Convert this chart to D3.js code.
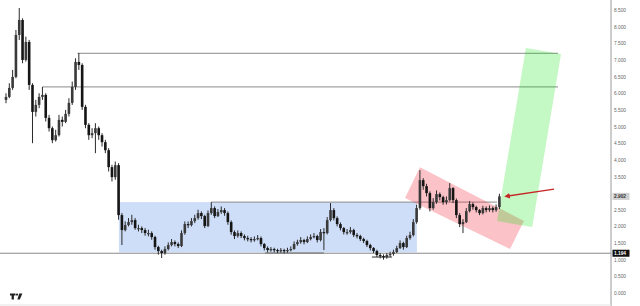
<!DOCTYPE html>
<html>
<head>
<meta charset="utf-8">
<script src="https://cdn.jsdelivr.net/npm/d3@7"></script>
<style>
  html, body { margin: 0; padding: 0; background: #fff; }
  #chart { width: 640px; height: 306px; overflow: hidden; }
  .tick text { font-family: "Liberation Sans", Arial, sans-serif; }
</style>
</head>
<body>
<div id="chart"></div>
<script>
// candle data (one per bar); each bar opens at the previous close
var firstOpen = 5.80;
var closes = [5.89, 6.16, 6.49, 7.75, 8.20, 7.00, 7.54, 6.25, 5.44, 5.65,
  5.89, 5.95, 5.26, 4.95, 4.59, 4.74, 5.20, 5.14, 5.38, 5.71,
  6.19, 6.94, 6.85, 5.59, 5.05, 4.74, 4.80, 4.95, 4.74, 4.53,
  4.29, 3.78, 3.48, 3.84, 2.34, 1.89, 2.04, 2.13, 2.19, 1.95,
  1.95, 1.89, 1.80, 1.80, 1.68, 1.38, 1.26, 1.20, 1.32, 1.44,
  1.53, 1.47, 1.41, 1.80, 2.07, 2.04, 2.16, 2.25, 2.40, 2.31,
  2.01, 2.40, 2.55, 2.31, 2.43, 2.49, 2.40, 2.13, 1.83, 1.71,
  1.80, 1.71, 1.65, 1.62, 1.59, 1.62, 1.65, 1.47, 1.35, 1.29,
  1.32, 1.29, 1.26, 1.29, 1.26, 1.29, 1.32, 1.47, 1.53, 1.59,
  1.53, 1.62, 1.68, 1.71, 1.59, 1.83, 1.80, 2.19, 2.49, 2.25,
  2.07, 1.95, 1.83, 1.83, 1.89, 1.74, 1.71, 1.62, 1.56, 1.44,
  1.35, 1.26, 1.14, 1.11, 1.08, 1.14, 1.17, 1.23, 1.35, 1.50,
  1.38, 1.65, 1.74, 2.13, 2.55, 3.39, 3.21, 3.00, 2.55, 2.73,
  2.97, 2.88, 2.73, 2.79, 3.15, 2.79, 2.34, 2.07, 2.13, 2.46,
  2.67, 2.58, 2.49, 2.40, 2.55, 2.49, 2.55, 2.49, 2.58, 2.902];
var highs = [6.00, 6.30, 6.70, 7.90, 8.56, 8.25, 7.70, 7.60, 6.30, 5.80,
  6.00, 6.19, 6.00, 5.35, 5.00, 4.90, 5.35, 5.30, 5.50, 5.85,
  6.35, 7.05, 7.21, 6.90, 5.65, 5.10, 4.95, 5.10, 5.00, 4.80,
  4.60, 4.35, 3.85, 3.95, 3.90, 2.40, 2.15, 2.25, 2.35, 2.25,
  2.05, 2.00, 1.95, 1.90, 1.85, 1.72, 1.42, 1.30, 1.40, 1.52,
  1.62, 1.58, 1.52, 1.88, 2.15, 2.15, 2.25, 2.35, 2.50, 2.45,
  2.35, 2.48, 2.73, 2.60, 2.52, 2.60, 2.55, 2.45, 2.18, 1.88,
  1.88, 1.85, 1.76, 1.72, 1.68, 1.70, 1.74, 1.70, 1.50, 1.40,
  1.38, 1.36, 1.33, 1.35, 1.33, 1.36, 1.40, 1.55, 1.60, 1.68,
  1.63, 1.70, 1.76, 1.80, 1.75, 1.92, 1.95, 2.28, 2.70, 2.55,
  2.30, 2.12, 1.98, 1.92, 1.98, 1.93, 1.80, 1.75, 1.66, 1.60,
  1.48, 1.38, 1.30, 1.20, 1.16, 1.20, 1.24, 1.30, 1.42, 1.58,
  1.54, 1.72, 1.84, 2.22, 2.65, 3.69, 3.45, 3.28, 3.05, 2.85,
  3.08, 3.02, 2.92, 2.90, 3.30, 3.18, 2.84, 2.40, 2.22, 2.55,
  2.76, 2.72, 2.62, 2.52, 2.62, 2.60, 2.63, 2.60, 2.66, 2.98];
var lows = [5.70, 5.85, 6.10, 6.45, 7.60, 6.90, 6.95, 6.10, 4.50, 5.30,
  5.55, 5.80, 5.15, 4.85, 4.50, 4.55, 4.70, 5.00, 5.10, 5.30,
  5.65, 6.10, 6.70, 5.50, 4.95, 4.60, 4.65, 4.20, 4.60, 4.40,
  4.20, 3.65, 3.35, 3.40, 2.20, 1.44, 1.85, 2.00, 2.05, 1.90,
  1.85, 1.80, 1.72, 1.70, 1.60, 1.30, 1.15, 1.05, 1.15, 1.28,
  1.40, 1.40, 1.35, 1.38, 1.75, 1.95, 2.00, 2.10, 2.20, 2.22,
  1.95, 1.98, 2.35, 2.25, 2.28, 2.38, 2.32, 2.05, 1.75, 1.62,
  1.66, 1.65, 1.58, 1.55, 1.52, 1.54, 1.58, 1.40, 1.28, 1.22,
  1.24, 1.22, 1.20, 1.21, 1.19, 1.21, 1.25, 1.30, 1.42, 1.48,
  1.46, 1.50, 1.58, 1.64, 1.52, 1.55, 1.29, 1.76, 2.15, 2.18,
  2.00, 1.88, 1.76, 1.75, 1.78, 1.68, 1.64, 1.56, 1.50, 1.38,
  1.28, 1.20, 1.08, 1.04, 1.00, 1.03, 1.08, 1.12, 1.20, 1.32,
  1.30, 1.35, 1.60, 1.70, 2.08, 2.50, 3.10, 2.90, 2.45, 2.50,
  2.68, 2.78, 2.65, 2.66, 2.75, 2.70, 2.25, 1.98, 1.80, 2.10,
  2.42, 2.50, 2.42, 2.34, 2.36, 2.42, 2.44, 2.42, 2.44, 2.52];

// price axis
var tickValues = [0, 0.5, 1, 1.5, 2, 2.5, 3, 3.5, 4, 4.5, 5, 5.5, 6, 6.5, 7, 7.5, 8, 8.5];
var lastPrice = 2.902;
var supportPrice = 1.194;

// drawings, in [bar index, price]
var levelLines = [
  { from: 11, to: 166.7, price: 6.19 },
  { from: 21.6, to: 166.7, price: 7.20 },
  { from: 62, to: 148.3, price: 2.73 }
];
var rangeBox = { from: 34.1, to: 124.1, top: 2.73, bottom: 1.22 };
var lowMarks = [
  { from: 78.2, to: 96, price: 1.20 },
  { from: 110.5, to: 116.6, price: 1.08 }
];
var channel = [[125.0, 3.78], [156.4, 2.16], [152.2, 1.32], [120.5, 2.85]];
var target = [[157.0, 7.36], [167.6, 7.18], [158.9, 1.98], [148.3, 2.16]];
var arrow = [[165.5, 3.12], [151.3, 2.91]];

function init() {
    var w = 640;
    var h = 306;
    var axisX = 611;

    var x = d3.scaleLinear().domain([0, 183]).range([6, 612]);
    var y = d3.scaleLinear().domain([0, 8.5]).range([293, 10]);

    var svg = d3.select("#chart")
        .append("svg")
        .attr("width", w)
        .attr("height", h);

    var bars = closes.map(function(c, i) {
        return { i: i, o: i === 0 ? firstOpen : closes[i - 1], c: c, h: highs[i], l: lows[i] };
    });

    var poly = d3.line().x(d => x(d[0])).y(d => y(d[1]));

    // range box
    svg.append("rect")
        .attr("x", x(rangeBox.from))
        .attr("y", y(rangeBox.top))
        .attr("width", x(rangeBox.to) - x(rangeBox.from))
        .attr("height", y(rangeBox.bottom) - y(rangeBox.top))
        .attr("fill", "rgba(30,100,220,0.21)");

    // support line across the chart
    svg.append("line")
        .attr("x1", 0).attr("x2", axisX)
        .attr("y1", y(supportPrice)).attr("y2", y(supportPrice))
        .attr("stroke", "#8a8a8a").attr("stroke-width", 1);

    // horizontal levels
    svg.selectAll(".level")
        .data(levelLines)
        .enter().append("line")
        .attr("x1", d => x(d.from)).attr("x2", d => x(d.to))
        .attr("y1", d => y(d.price)).attr("y2", d => y(d.price))
        .attr("stroke", "#8a8a8a").attr("stroke-width", 1);

    svg.selectAll(".lowmark")
        .data(lowMarks)
        .enter().append("line")
        .attr("x1", d => x(d.from)).attr("x2", d => x(d.to))
        .attr("y1", d => y(d.price)).attr("y2", d => y(d.price))
        .attr("stroke", "#8c8c8c").attr("stroke-width", 1.8);

    // channel and target zones
    svg.append("path")
        .attr("d", poly(channel) + "Z")
        .attr("fill", "rgba(242,54,69,0.30)");

    svg.append("path")
        .attr("d", poly(target) + "Z")
        .attr("fill", "rgba(0,225,0,0.23)");

    // candles
    var g = svg.append("g");
    g.selectAll(".wick")
        .data(bars)
        .enter().append("line")
        .attr("x1", d => x(d.i)).attr("x2", d => x(d.i))
        .attr("y1", d => y(d.h)).attr("y2", d => y(d.l))
        .attr("stroke", "#2a2a2a").attr("stroke-width", 1);

    g.selectAll(".body")
        .data(bars)
        .enter().append("rect")
        .attr("x", d => x(d.i) - 1.3)
        .attr("width", 2.6)
        .attr("y", d => y(Math.max(d.o, d.c)))
        .attr("height", d => Math.max(1.2, Math.abs(y(d.o) - y(d.c))))
        .attr("fill", d => d.c >= d.o ? "#3a3a3a" : "#151515");

    // arrow
    svg.append("defs").append("marker")
        .attr("id", "head")
        .attr("viewBox", "0 0 10 10")
        .attr("refX", 5).attr("refY", 5)
        .attr("markerWidth", 4).attr("markerHeight", 4)
        .attr("orient", "auto")
        .append("path")
        .attr("d", "M0,0L10,5L0,10Z")
        .attr("fill", "#c62828");

    svg.append("line")
        .attr("x1", x(arrow[0][0])).attr("y1", y(arrow[0][1]))
        .attr("x2", x(arrow[1][0])).attr("y2", y(arrow[1][1]))
        .attr("stroke", "#c62828").attr("stroke-width", 1.4)
        .attr("marker-end", "url(#head)");

    // price scale
    svg.append("line")
        .attr("x1", axisX).attr("x2", axisX)
        .attr("y1", 0).attr("y2", h)
        .attr("stroke", "#9a9a9a").attr("stroke-width", 1);

    svg.append("line")
        .attr("x1", 0).attr("x2", axisX)
        .attr("y1", 305).attr("y2", 305)
        .attr("stroke", "#e3e3e3").attr("stroke-width", 1);

    var shown = tickValues.filter(v =>
        Math.abs(y(v) - y(lastPrice)) > 6 && Math.abs(y(v) - y(supportPrice)) > 4);

    var axis = svg.append("g")
        .attr("transform", "translate(" + (axisX + 3) + ",0)")
        .call(d3.axisRight(y).tickValues(shown).tickSize(0).tickFormat(d3.format(".3f")));
    axis.select(".domain").remove();
    axis.selectAll("text")
        .attr("x", 0)
        .attr("fill", "#666")
        .style("font-size", "4.8px");

    // current price and support tags
    var tags = [
        { v: lastPrice, bg: "#cfcfcf", fg: "#333" },
        { v: supportPrice, bg: "#111", fg: "#fff" }
    ];
    tags.forEach(function(t) {
        svg.append("rect")
            .attr("x", axisX + 1.5).attr("y", y(t.v) - 3.5)
            .attr("width", 17).attr("height", 7)
            .attr("fill", t.bg);
        svg.append("text")
            .attr("x", axisX + 3).attr("y", y(t.v))
            .attr("dy", "0.35em")
            .attr("fill", t.fg)
            .style("font-family", "'Liberation Sans', Arial, sans-serif")
            .style("font-size", "4.8px")
            .style("font-weight", "bold")
            .text(d3.format(".3f")(t.v));
    });

    // logo
    var logo = svg.append("g").attr("fill", "#222");
    logo.append("path").attr("d", "M10,293.5h5.5v2h-1.6v4h-2.3v-4h-1.6Z");
    logo.append("circle").attr("cx", 17).attr("cy", 294.6).attr("r", 1.1);
    logo.append("path").attr("d", "M19.2,293.5h3.2l-2.6,6h-2.4Z");
}

window.onload = init;
</script>
</body>
</html>
